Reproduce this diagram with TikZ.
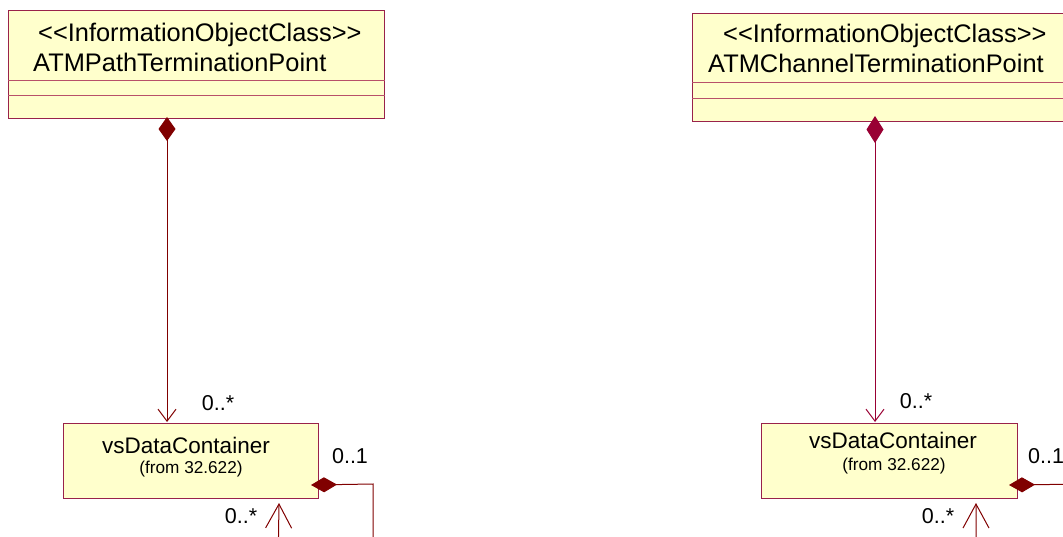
\documentclass[tikz,border=0pt]{standalone}
\usepackage{fontspec}
\newfontfamily\uml{Liberation Sans}
\usetikzlibrary{arrows.meta,calc}
\definecolor{boxfill}{HTML}{FFFFCC}
\definecolor{boxline}{HTML}{99224A}
\definecolor{sepline}{HTML}{B8506A}
\definecolor{dred}{HTML}{800000}
\definecolor{crim}{HTML}{990033}
\tikzset{
  classbox/.style={draw=boxline, fill=boxfill, line width=1pt, inner sep=0pt, anchor=north west},
  sepl/.style={draw=sepline, line width=1pt},
  titletext/.style={font=\uml\fontsize{25.4}{30}\selectfont, inner sep=0pt, anchor=base west},
  nametext/.style={font=\uml\fontsize{22.5}{27}\selectfont, inner sep=0pt, anchor=base},
  fromtext/.style={font=\uml\fontsize{17.2}{21}\selectfont, inner sep=0pt, anchor=base},
  mult/.style={font=\uml\fontsize{21.5}{26}\selectfont, inner sep=0pt, anchor=base},
  barb/.tip={Straight Barb[length=12pt,width=18pt]},
  bigbarb/.tip={Straight Barb[length=24pt,width=26pt]},
  conn/.style={line width=1pt},
}
\begin{document}
\begin{tikzpicture}[x=1pt,y=-1pt]
\clip (0,0) rectangle (1063,537);
% --- left column ---
\node[classbox, minimum width=376pt, minimum height=108pt] (ptp) at (8,10) {};
\draw[sepl] ($(ptp.north west)+(0,70.5)$) -- ($(ptp.north east)+(0,70.5)$);
\draw[sepl] ($(ptp.north west)+(0,86)$) -- ($(ptp.north east)+(0,86)$);
\node[titletext] (ptpst) at (38,42) {<<InformationObjectClass>>};
\node[titletext] (ptpname) at (33,72) {ATMPathTerminationPoint};

\node[classbox, minimum width=255pt, minimum height=75pt] (vdc1) at (63,423) {};
\node[nametext] (vdc1n) at (186,453) {vsDataContainer};
\node[fromtext] (vdc1f) at (191,473) {(from 32.622)};

\draw[conn, dred, {Diamond[length=24pt,width=17pt]}-{barb}]
  ($(ptp.south west)+(159,-2)$) -- ($(vdc1.north west)+(104,-1)$);
\draw[conn, dred, {Diamond[length=26pt,width=15pt]}-{bigbarb}]
  ($(vdc1.south east)+(-8,-14)$) -- (373,484) -- (373,570) -- (278,570) -- ($(vdc1.south west)+(216,4)$);

\node[mult] (m1) at (218,410) {0..*};
\node[mult] (m2) at (350,463) {0..1};
\node[mult] (m3) at (241,523) {0..*};

% --- right column ---
\node[classbox, minimum width=400pt, minimum height=108pt] (ptc) at (692,13) {};
\draw[sepl] ($(ptc.north west)+(0,70)$) -- ($(ptc.north east)+(0,70)$);
\draw[sepl] ($(ptc.north west)+(0,86)$) -- ($(ptc.north east)+(0,86)$);
\node[titletext] (ptcst) at (723,43) {<<InformationObjectClass>>};
\node[titletext] (ptcname) at (708,73) {ATMChannelTerminationPoint};

\node[classbox, minimum width=256pt, minimum height=75pt] (vdc2) at (761,423) {};
\node[nametext] (vdc2n) at (893,448) {vsDataContainer};
\node[fromtext] (vdc2f) at (894,470) {(from 32.622)};

\draw[conn, crim, {Diamond[length=27pt,width=17pt]}-{barb}]
  ($(ptc.south west)+(183,-6)$) -- ($(vdc2.north west)+(114,-1)$);
\draw[conn, dred, {Diamond[length=26pt,width=15pt]}-{bigbarb}]
  ($(vdc2.south east)+(-9,-14)$) -- (1090,484) -- (1090,570) -- (976,570) -- ($(vdc2.south west)+(215,4)$);

\node[mult] (m4) at (916,408) {0..*};
\node[mult, anchor=base west] (m5) at (1028,463) {0..1};
\node[mult] (m6) at (938,523) {0..*};
\end{tikzpicture}
\end{document}
